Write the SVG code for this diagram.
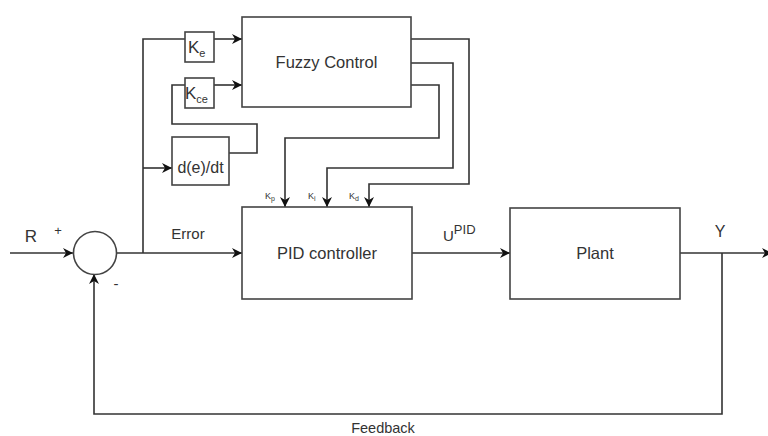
<svg xmlns="http://www.w3.org/2000/svg" width="768" height="436" viewBox="0 0 768 436">
  <style>
    .box { fill: #fff; stroke: #444; stroke-width: 1.6; }
    .wire { fill: none; stroke: #333; stroke-width: 1.6; }
    .lbl { font-family: "Liberation Sans", Arial, sans-serif; fill: #333; }
  </style>
  <defs>
    <marker id="arr" viewBox="0 0 10 10" refX="10" refY="5" markerWidth="10" markerHeight="10" markerUnits="userSpaceOnUse" orient="auto">
      <path d="M0,0 L10,5 L0,10 L3,5 Z" fill="#111"/>
    </marker>
  </defs>
  <rect width="768" height="436" fill="#fff"/>

  <g id="connectors">
    <!-- reference input into summing junction -->
    <path class="wire" d="M10,253 H73" marker-end="url(#arr)"/>
    <!-- error into PID -->
    <path class="wire" d="M116,253 H242" marker-end="url(#arr)"/>
    <!-- error branch to Ke and d/dt -->
    <path class="wire" d="M143,253 V39 H185"/>
    <path class="wire" d="M214,39 H242" marker-end="url(#arr)"/>
    <path class="wire" d="M143,168 H172" marker-end="url(#arr)"/>
    <!-- derivative to Kce -->
    <path class="wire" d="M229,153 H257 V124 H172 V85 H185"/>
    <path class="wire" d="M214,85 H242" marker-end="url(#arr)"/>
    <!-- fuzzy outputs to PID gains -->
    <path class="wire" d="M411,85 H439 V138 H285 V207" marker-end="url(#arr)"/>
    <path class="wire" d="M411,63 H453 V168 H327 V207" marker-end="url(#arr)"/>
    <path class="wire" d="M411,39 H469 V184 H369 V207" marker-end="url(#arr)"/>
    <!-- PID to plant -->
    <path class="wire" d="M412,253 H510" marker-end="url(#arr)"/>
    <!-- plant output -->
    <path class="wire" d="M680,253 H772" marker-end="url(#arr)"/>
    <!-- feedback loop -->
    <path class="wire" d="M722,253 V414 H94 V274" marker-end="url(#arr)"/>
  </g>

  <g id="sum">
    <circle cx="95" cy="253" r="21.5" class="box"/>
    <text class="lbl" x="58" y="235" font-size="13" text-anchor="middle">+</text>
    <text class="lbl" x="116" y="289" font-size="15" text-anchor="middle">-</text>
  </g>

  <g id="ke">
    <rect class="box" x="185" y="32" width="29" height="30"/>
    <text class="lbl" x="188" y="53" font-size="17">K<tspan font-size="11" dy="4">e</tspan></text>
  </g>

  <g id="kce">
    <rect class="box" x="185" y="78" width="29" height="30"/>
    <text class="lbl" x="185" y="99" font-size="17">K<tspan font-size="11" dy="4">ce</tspan></text>
  </g>

  <g id="deriv">
    <rect class="box" x="172" y="137" width="57" height="48"/>
    <text class="lbl" x="200.5" y="173" font-size="16" text-anchor="middle">d(e)/dt</text>
  </g>

  <g id="fuzzy">
    <rect class="box" x="242" y="17" width="169" height="90"/>
    <text class="lbl" x="326.5" y="68" font-size="16.5" text-anchor="middle">Fuzzy Control</text>
  </g>

  <g id="pid">
    <rect class="box" x="242" y="207" width="170" height="92"/>
    <text class="lbl" x="327" y="259" font-size="16.5" text-anchor="middle">PID controller</text>
    <text class="lbl" x="265" y="199" font-size="9">K<tspan font-size="7" dy="2">p</tspan></text>
    <text class="lbl" x="308" y="199" font-size="9">K<tspan font-size="7" dy="2">i</tspan></text>
    <text class="lbl" x="349" y="199" font-size="9">K<tspan font-size="7" dy="2">d</tspan></text>
  </g>

  <g id="plant">
    <rect class="box" x="510" y="208" width="170" height="91"/>
    <text class="lbl" x="595" y="259" font-size="16.5" text-anchor="middle">Plant</text>
  </g>

  <g id="labels">
    <text class="lbl" x="31" y="242" font-size="17" text-anchor="middle">R</text>
    <text class="lbl" x="188" y="239" font-size="15" text-anchor="middle">Error</text>
    <text class="lbl" x="443" y="241" font-size="15">U<tspan font-size="13" dy="-7">PID</tspan></text>
    <text class="lbl" x="720" y="237" font-size="16" text-anchor="middle">Y</text>
    <text class="lbl" x="383" y="433" font-size="14.5" text-anchor="middle">Feedback</text>
  </g>
</svg>
